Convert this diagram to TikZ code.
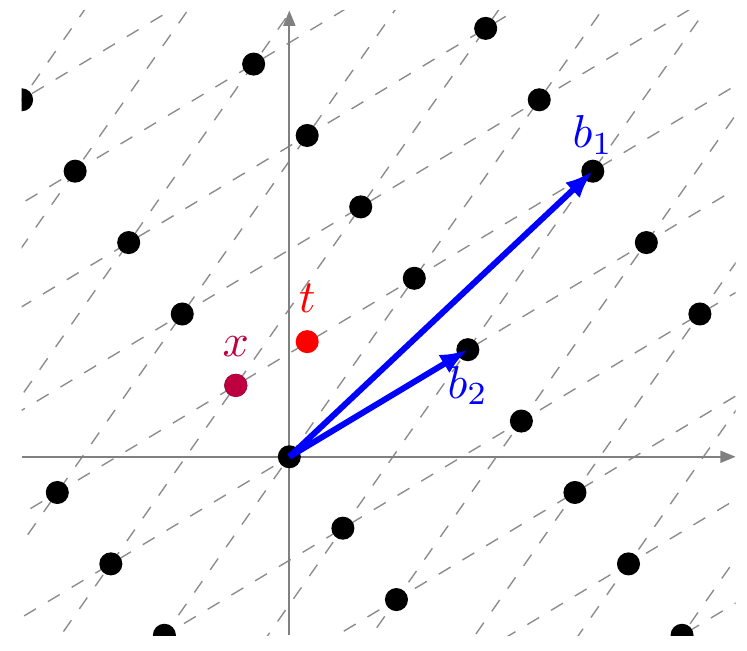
\documentclass[tikz,border=0pt]{standalone}
\usepackage{xcolor}
\usepackage{tikz}
\usetikzlibrary{arrows.meta}

\begin{document}
\begin{tikzpicture}[x=3.87pt,y=3.87pt, dot/.style={circle,fill=black,inner sep=0pt,minimum size=5pt}, gridline/.style={gray!90,line width=0.3pt,dashed}, axis/.style={gray,-{Triangle[length=3.3pt,width=2.6pt]}}, vec/.style={blue,line width=1.3pt,-{Latex[length=6pt,width=4.6pt]}}]
\useasboundingbox (-16.21,-10.83) rectangle (25.64,25.59);
% lines of the lattice, along b2 and b1-b2
\begin{scope}
\clip (-15,-10) rectangle (25,25);
\foreach \k in {-5,...,5} {
  \draw[gridline] ({7*\k-80},{10*\k-48}) -- ({7*\k+80},{10*\k+48});
  \draw[gridline] ({10*\k-56},{6*\k-80}) -- ({10*\k+56},{6*\k+80});
}
\end{scope}
\draw[axis] (-15,0) -- (25,0);
\draw[axis] (0,-10) -- (0,25);
% lattice points a(3,-4)+b(7,10)
\begin{scope}
\clip (-15,-10) rectangle (25,25);
\foreach \a in {-5,...,5} \foreach \b in {-1,...,2} \node[dot] (p\a\b) at ({3*\a+7*\b},{-4*\a+10*\b}) {};
\end{scope}
\draw[vec] (p00.center) -- (p12.center);
\draw[vec] (p00.center) -- (p11.center);
\node[text=blue,above] (lb1) at (p12) {$b_1$};
\node[text=blue,below] (lb2) at (p11) {$b_2$};
\node[dot,fill=purple,label={[text=purple]above:$x$}] (x) at (-3,4) {};
\node[dot,fill=red,label={[text=red]above:$t$}] (t) at (1,6.45) {};
\end{tikzpicture}
\end{document}
